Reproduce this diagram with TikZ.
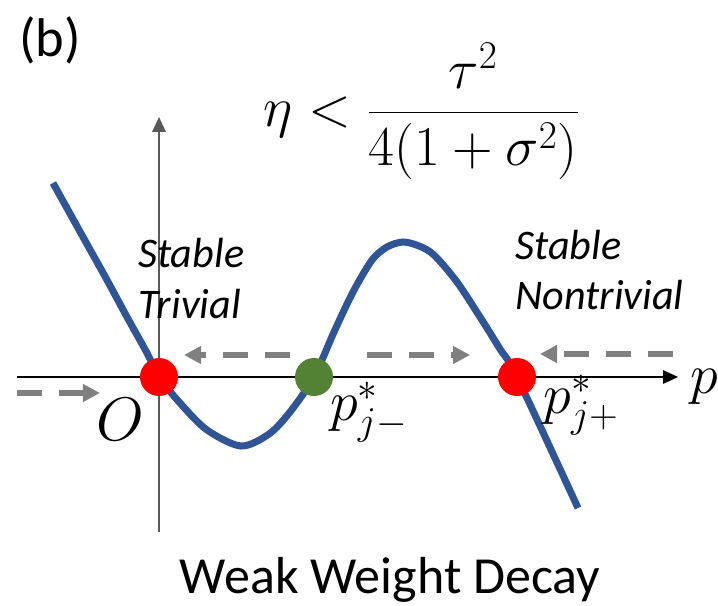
\RequirePackage{fix-cm}
\documentclass[tikz,border=0pt]{standalone}
\usepackage{fontspec}
\setmainfont{Carlito}
\usetikzlibrary{arrows.meta}
\definecolor{curveblue}{HTML}{2F5597}
\definecolor{dotgreen}{HTML}{548235}
\definecolor{flowgray}{HTML}{808080}
\definecolor{axisgray}{HTML}{595959}

\begin{document}
\begin{tikzpicture}[
    fixed/.style={circle,fill=red,inner sep=0pt,minimum size=0.76cm},
    saddle/.style={circle,fill=dotgreen,inner sep=0pt,minimum size=0.76cm},
    flow/.style={-{Triangle[length=0.34cm,width=0.34cm]},line width=3.4pt,
      draw=flowgray,dash pattern=on 14pt off 10pt},
    axis/.style={-{Triangle[length=0.3cm,width=0.27cm]}},
    regime/.style={inner sep=0pt,font=\fontsize{24}{28.5}\selectfont\itshape,align=left},
    mathlbl/.style={inner sep=0pt,font=\fontsize{32}{38}\selectfont}
  ]
  \useasboundingbox (-3.18,-4.56) rectangle (11.18,7.54);

  \coordinate (xstart) at (-2.84,0);
  \coordinate (xend) at (10.38,0);
  \coordinate (ystart) at (0,-3.1);
  \coordinate (yend) at (0,5.2);
  \draw[axis,line width=0.85pt,black] (xstart) -- (xend);
  \draw[axis,line width=1.1pt,draw=axisgray,fill=black] (ystart) -- (yend);

  \draw[curveblue,line width=4pt] plot[smooth,tension=0.5] coordinates {
    (-2.12,3.88) (-1.52,2.8) (-1.04,1.94) (-0.64,1.2) (-0.24,0.48) (0,0)
    (0.42,-0.52) (0.96,-1.06) (1.64,-1.38) (2.2,-1.14) (2.62,-0.7) (3.1,0)
    (3.5,0.9) (3.88,1.7) (4.26,2.34) (4.56,2.6) (4.88,2.7) (5.2,2.62)
    (5.5,2.44) (5.96,1.9) (6.42,1.2) (6.82,0.56) (7.16,0) (8.38,-2.62)};

  \node[fixed] (trivial) at (0,0) {};
  \node[saddle] (unstable) at (3.1,0) {};
  \node[fixed] (nontrivial) at (7.16,0) {};

  \coordinate (inleft) at (-2.84,-0.32);
  \coordinate (toorigin) at (-1.18,-0.32);
  \coordinate (midleft) at (2.62,0.44);
  \coordinate (backleft) at (0.5,0.44);
  \coordinate (midright) at (4.16,0.44);
  \coordinate (onright) at (6.22,0.44);
  \coordinate (inright) at (10.28,0.46);
  \coordinate (tononzero) at (7.62,0.46);
  \draw[flow] (inleft) -- (toorigin);
  \draw[flow] (midleft) -- (backleft);
  \draw[flow] (midright) -- (onright);
  \draw[flow] (inright) -- (tononzero);

  \node[mathlbl,font=\fontsize{35}{40}\selectfont] (origin) at (-0.78,-0.84) {$O$};
  \node[mathlbl] (paxis) at (10.9,-0.2) {$p$};
  \node[mathlbl] (pminus) at (4.2,-0.7) {$p_{j-}^{*}$};
  \node[mathlbl] (pplus) at (8.44,-0.56) {$p_{j+}^{*}$};

  \node[regime,anchor=west] (trivlbl) at (-0.42,1.97) {Stable\\Trivial};
  \node[regime,anchor=west] (nontrivlbl) at (7.12,2.14) {Stable\\Nontrivial};

  \node[mathlbl,anchor=west] (cond) at (2.08,5.32)
    {$\displaystyle \eta<\frac{\tau^2}{4(1+\sigma^2)}$};
  \node[inner sep=0pt,font=\fontsize{31}{36}\selectfont] (panel) at (-2.18,6.74) {(b)};
  \node[inner sep=0pt,font=\fontsize{29.6}{34}\selectfont,anchor=base] (title)
    at (4.62,-4.32) {Weak Weight Decay};
\end{tikzpicture}
\end{document}
